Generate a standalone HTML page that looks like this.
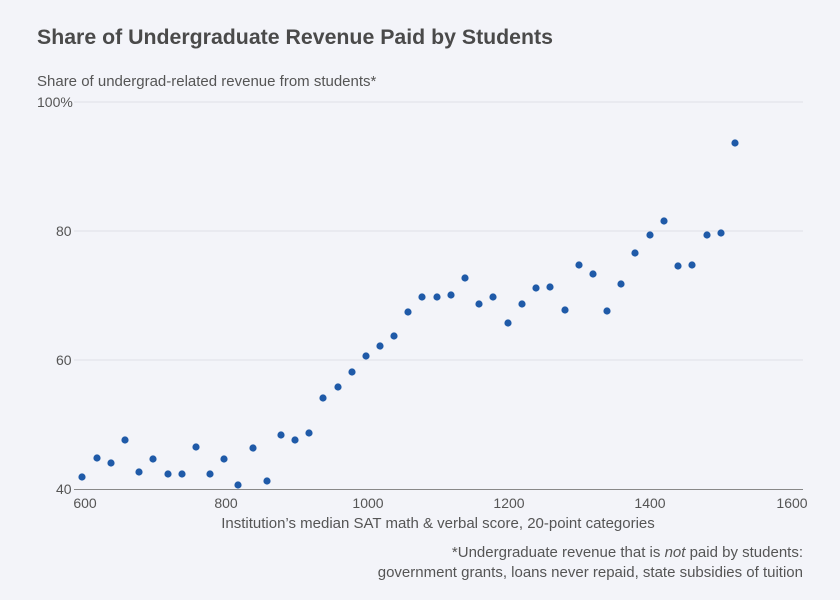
<!DOCTYPE html>
<html><head><meta charset="utf-8"><style>
body{margin:0;background:#f3f4f9;}
svg{display:block;font-family:"Liberation Sans",sans-serif;}
</style></head><body>
<svg width="840" height="600" viewBox="0 0 840 600">
<rect width="840" height="600" fill="#f3f4f9"/>
<text x="37" y="44" font-size="21.3" font-weight="bold" fill="#4a4a4a">Share of Undergraduate Revenue Paid by Students</text>
<text x="37" y="86" font-size="15" fill="#555">Share of undergrad-related revenue from students*</text>
<g stroke="#dfe0e8" stroke-width="1">
<line x1="74" y1="102" x2="803" y2="102"/>
<line x1="74" y1="231" x2="803" y2="231"/>
<line x1="74" y1="360" x2="803" y2="360"/>
</g>
<line x1="74" y1="489.5" x2="803" y2="489.5" stroke="#888" stroke-width="1"/>
<g font-size="14" fill="#555">
<text x="37" y="107">100%</text>
<text x="56" y="236">80</text>
<text x="56" y="365">60</text>
<text x="56" y="494">40</text>
</g>
<g font-size="14" fill="#555" text-anchor="middle">
<text x="85" y="508">600</text>
<text x="226" y="508">800</text>
<text x="368" y="508">1000</text>
<text x="509" y="508">1200</text>
<text x="650" y="508">1400</text>
<text x="792" y="508">1600</text>
</g>
<text x="438" y="528" font-size="15" fill="#555" text-anchor="middle">Institution’s median SAT math &amp; verbal score, 20-point categories</text>
<g font-size="15" fill="#555" text-anchor="end">
<text x="803" y="557">*Undergraduate revenue that is <tspan font-style="italic">not</tspan> paid by students:</text>
<text x="803" y="577">government grants, loans never repaid, state subsidies of tuition</text>
</g>
<g fill="#1f5aa8">
<circle cx="82" cy="477" r="3.6"/><circle cx="97" cy="458" r="3.6"/><circle cx="111" cy="463" r="3.6"/><circle cx="125" cy="440" r="3.6"/><circle cx="139" cy="472" r="3.6"/><circle cx="153" cy="459" r="3.6"/><circle cx="168" cy="474" r="3.6"/><circle cx="182" cy="474" r="3.6"/><circle cx="196" cy="447" r="3.6"/><circle cx="210" cy="474" r="3.6"/><circle cx="224" cy="459" r="3.6"/><circle cx="238" cy="485" r="3.6"/><circle cx="253" cy="448" r="3.6"/><circle cx="267" cy="481" r="3.6"/><circle cx="281" cy="435" r="3.6"/><circle cx="295" cy="440" r="3.6"/><circle cx="309" cy="433" r="3.6"/><circle cx="323" cy="398" r="3.6"/><circle cx="338" cy="387" r="3.6"/><circle cx="352" cy="372" r="3.6"/><circle cx="366" cy="356" r="3.6"/><circle cx="380" cy="346" r="3.6"/><circle cx="394" cy="336" r="3.6"/><circle cx="408" cy="312" r="3.6"/><circle cx="422" cy="297" r="3.6"/><circle cx="437" cy="297" r="3.6"/><circle cx="451" cy="295" r="3.6"/><circle cx="465" cy="278" r="3.6"/><circle cx="479" cy="304" r="3.6"/><circle cx="493" cy="297" r="3.6"/><circle cx="508" cy="323" r="3.6"/><circle cx="522" cy="304" r="3.6"/><circle cx="536" cy="288" r="3.6"/><circle cx="550" cy="287" r="3.6"/><circle cx="565" cy="310" r="3.6"/><circle cx="579" cy="265" r="3.6"/><circle cx="593" cy="274" r="3.6"/><circle cx="607" cy="311" r="3.6"/><circle cx="621" cy="284" r="3.6"/><circle cx="635" cy="253" r="3.6"/><circle cx="650" cy="235" r="3.6"/><circle cx="664" cy="221" r="3.6"/><circle cx="678" cy="266" r="3.6"/><circle cx="692" cy="265" r="3.6"/><circle cx="707" cy="235" r="3.6"/><circle cx="721" cy="233" r="3.6"/><circle cx="735" cy="143" r="3.6"/>
</g>
</svg>
</body></html>
